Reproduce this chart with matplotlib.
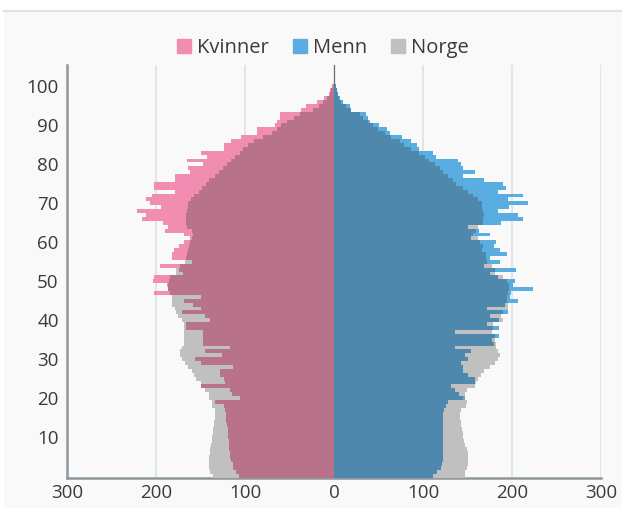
import numpy as np
import matplotlib
matplotlib.use("Agg")
import matplotlib.pyplot as plt
import matplotlib.patches as mp

plt.rcParams["font.family"] = ["Open Sans", "DejaVu Sans"]

# ---- data: age 0..100 ----
ages = list(range(0, 101))
kvinner = [107, 110, 113, 114, 116, 117, 117, 118, 118, 118,
           119, 119, 119, 120, 121, 121, 121, 122, 124, 134,
           106, 115, 117, 150, 122, 124, 128, 128, 113, 149,
           156, 126, 145, 117, 147, 147, 147, 147, 166, 166,
           139, 145, 171, 149, 158, 169, 150, 202, 186, 188,
           203, 202, 170, 174, 196, 160, 182, 182, 180, 174,
           168, 162, 169, 190, 187, 192, 216, 211, 221, 194,
           207, 211, 205, 179, 202, 202, 179, 179, 162, 164,
           147, 165, 143, 149, 124, 124, 116, 104, 87, 87,
           66, 64, 61, 61, 37, 31, 19, 11, 6, 4, 2]
norge_k = [136, 139, 141, 141, 141, 140, 139, 139, 138, 137,
           137, 136, 136, 135, 135, 134, 134, 134, 137, 137,
           141, 141, 145, 149, 150, 155, 157, 160, 164, 167,
           171, 173, 173, 171, 169, 169, 169, 169, 169, 169,
           171, 175, 177, 179, 182, 182, 182, 184, 186, 187,
           185, 184, 177, 178, 173, 167, 166, 165, 164, 163,
           162, 160, 158, 160, 165, 166, 166, 166, 165, 164,
           164, 161, 157, 152, 148, 144, 140, 134, 129, 125,
           120, 116, 111, 106, 102, 97, 90, 80, 70, 64,
           60, 53, 45, 38, 24, 17, 12, 8, 5, 3, 1]
menn = [111, 116, 120, 121, 122, 122, 122, 122, 122, 122,
        122, 122, 122, 122, 122, 122, 122, 124, 126, 128,
        147, 140, 136, 132, 158, 158, 150, 145, 145, 143,
        151, 147, 154, 136, 180, 178, 185, 136, 185, 172,
        185, 175, 196, 172, 192, 207, 198, 199, 224, 201,
        203, 184, 175, 205, 169, 186, 175, 194, 186, 180,
        182, 154, 175, 163, 151, 188, 212, 207, 184, 197,
        218, 196, 212, 184, 193, 190, 169, 145, 158, 145,
        143, 139, 115, 111, 96, 93, 87, 76, 63, 59,
        51, 40, 38, 36, 19, 18, 10, 7, 5, 3, 2]
norge_m = [147, 147, 149, 150, 150, 150, 150, 149, 147, 146,
           145, 145, 144, 143, 143, 142, 142, 143, 148, 149,
           145, 147, 149, 158, 160, 162, 165, 168, 175, 181,
           184, 186, 184, 182, 182, 181, 181, 177, 179, 179,
           190, 188, 190, 195, 196, 194, 194, 195, 197, 197,
           194, 190, 181, 181, 177, 172, 171, 171, 166, 167,
           164, 162, 156, 160, 162, 167, 167, 169, 167, 166,
           166, 162, 156, 151, 145, 137, 134, 128, 122, 119,
           113, 107, 102, 96, 87, 79, 74, 64, 57, 49,
           44, 38, 33, 29, 19, 14, 8, 6, 4, 3, 2]

x_ticks = [-300, -200, -100, 0, 100, 200, 300]
y_ticks = [10, 20, 30, 40, 50, 60, 70, 80, 90, 100]

PINK, PINK_D = "#f28db2", "#b8728a"
BLUE, BLUE_D = "#5aade0", "#4f88ad"
GREY = "#c0c0c0"
BG = "#f9f9f9"

ages = np.array(ages)
k, nk = np.array(kvinner), np.array(norge_k)
m, nm = np.array(menn), np.array(norge_m)

fig = plt.figure(figsize=(6.22, 5.08), dpi=100)
fig.patch.set_facecolor("white")
fig.patches.append(mp.Rectangle((4 / 622, 0), 1, 1 - 11 / 508, transform=fig.transFigure,
                                fc=BG, ec="none", zorder=-5))
fig.lines.append(plt.Line2D([4 / 622, 1], [1 - 11 / 508] * 2, transform=fig.transFigure,
                            color="#e2e2e2", lw=1.5, zorder=-4))

ax = fig.add_axes([67 / 622, 30 / 508, 534 / 622, 413 / 508])
ax.set_zorder(2)
ax.set_facecolor(BG)

# norge in grey, kommune in light colour, overlap in dark colour
kw = dict(height=1.0, linewidth=0, zorder=3)
ax.barh(ages, -nk, color=GREY, **kw)
ax.barh(ages, -k, color=PINK, **kw)
ax.barh(ages, -np.minimum(k, nk), color=PINK_D, **kw)
ax.barh(ages, nm, color=GREY, **kw)
ax.barh(ages, m, color=BLUE, **kw)
ax.barh(ages, np.minimum(m, nm), color=BLUE_D, **kw)

ax.axvline(0, color="#6a6a6a", lw=0.9, zorder=2)
for xt in x_ticks[1:]:
    if xt != 0:
        ax.axvline(xt, color="#dce1e5", lw=1.2, zorder=1)

ax.set_xlim(-300, 300)
ax.set_ylim(-0.5, 105.5)
ax.set_xticks(x_ticks)
ax.set_xticklabels([str(abs(v)) for v in x_ticks])
ax.set_yticks(y_ticks)
ax.tick_params(length=0, labelsize=13.5, colors="#3a3a3a", pad=4)
ax.tick_params(axis="y", pad=6)
for s in ["top", "right"]:
    ax.spines[s].set_visible(False)
for s in ["left", "bottom"]:
    ax.spines[s].set_color("#8e979d")
    ax.spines[s].set_linewidth(1.8)

handles = [mp.Patch(color=PINK, label="Kvinner"),
           mp.Patch(color=BLUE, label="Menn"),
           mp.Patch(color=GREY, label="Norge")]
fig.legend(handles=handles, loc="center", bbox_to_anchor=(323 / 622, 1 - 48 / 508), ncol=3,
           frameon=False, fontsize=14.5, handlelength=0.7, handleheight=0.7,
           handletextpad=0.3, columnspacing=1.2, labelcolor="#3a3a3a")

fig.savefig("out.png", dpi=100, facecolor="white")
